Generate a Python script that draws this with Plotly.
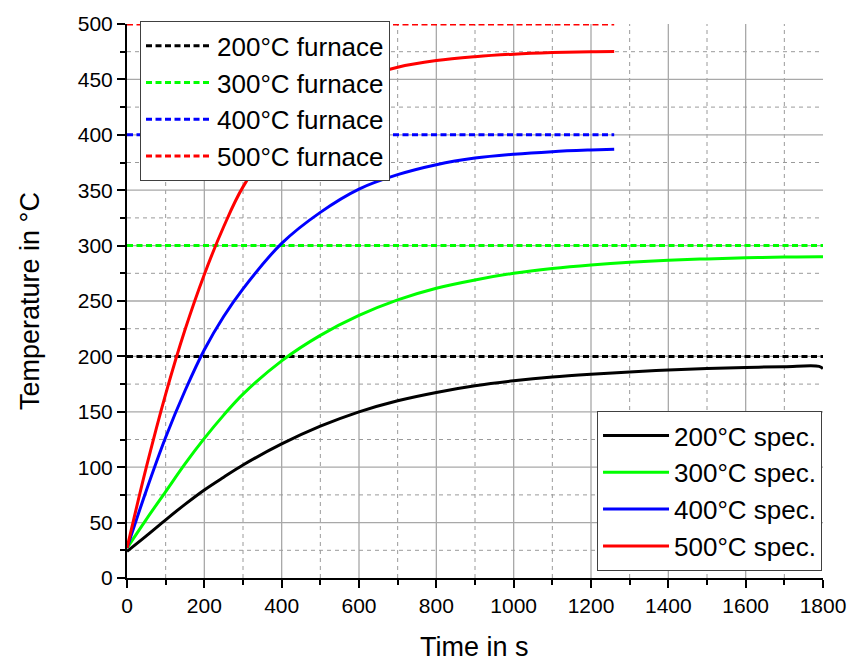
import plotly.graph_objects as go

# ---- data ----
t_long = [0, 50, 100, 150, 200, 250, 300, 400, 500, 600, 700, 800, 900, 1000,
          1100, 1200, 1300, 1400, 1500, 1600, 1700, 1790, 1800]
spec_200 = [24, 38, 52.5, 66.5, 79.5, 91, 102, 121, 137, 150, 160, 167.5, 173.5, 178,
            181.5, 184, 186, 187.7, 189, 190, 190.7, 191, 189]
spec_300 = [27, 53, 78, 103, 126, 147, 166, 196, 219, 237, 251, 261.5, 269, 275,
            279.3, 282.5, 285, 286.8, 288, 289, 289.6, 290, 290]

t_short = [0, 50, 100, 150, 200, 250, 300, 400, 500, 600, 700, 800, 900, 1000,
           1100, 1200, 1260]
spec_400 = [27, 79, 127, 169, 206, 236, 261, 302, 330, 351, 364, 373, 379, 382.5,
            384.8, 386.3, 387]
spec_500 = [27, 100, 166, 224, 274, 317, 353, 402, 432, 450, 461, 467, 470.5, 472.8,
            474.2, 475, 475.2]

furnace_temps = [200, 300, 400, 500]
furnace_end = [1800, 1800, 1260, 1260]
colors = ["#000000", "#00ff00", "#0000ff", "#ff0000"]

x_major = [0, 200, 400, 600, 800, 1000, 1200, 1400, 1600, 1800]
y_major = [0, 50, 100, 150, 200, 250, 300, 350, 400, 450, 500]
x_minor = [100, 300, 500, 700, 900, 1100, 1300, 1500, 1700]
y_minor = [25, 75, 125, 175, 225, 275, 325, 375, 425, 475]

FONT = "Arial, Liberation Sans, sans-serif"

fig = go.Figure()

# furnace lines (legend 1)
for T, te, c in zip(furnace_temps, furnace_end, colors):
    fig.add_trace(go.Scatter(
        x=[0, te], y=[T, T], mode="lines", name=f"{T}°C furnace",
        line=dict(color=c, width=3, dash="6px,3.5px"),
        cliponaxis=False, legend="legend"))

# specimen curves (legend 2)
spec_series = [(t_long, spec_200, "200°C spec."), (t_long, spec_300, "300°C spec."),
               (t_short, spec_400, "400°C spec."), (t_short, spec_500, "500°C spec.")]
for (tx, ty, nm), c in zip(spec_series, colors):
    fig.add_trace(go.Scatter(
        x=tx, y=ty, mode="lines", name=nm,
        line=dict(color=c, width=3, shape="spline", smoothing=1.0),
        legend="legend2"))

# grid lines as shapes (no line at the outer edges)
shapes = []
for xv in x_major[1:-1]:
    shapes.append(dict(type="line", xref="x", yref="paper", x0=xv, x1=xv, y0=0, y1=1,
                       line=dict(color="#a8a8a8", width=1.3), layer="below"))
for xv in x_minor:
    shapes.append(dict(type="line", xref="x", yref="paper", x0=xv, x1=xv, y0=0, y1=1,
                       line=dict(color="#9a9a9a", width=1, dash="4px,4px"), layer="below"))
for yv in y_major[1:-1]:
    shapes.append(dict(type="line", xref="paper", yref="y", x0=0, x1=1, y0=yv, y1=yv,
                       line=dict(color="#a8a8a8", width=1.3), layer="below"))
for yv in y_minor:
    shapes.append(dict(type="line", xref="paper", yref="y", x0=0, x1=1, y0=yv, y1=yv,
                       line=dict(color="#9a9a9a", width=1, dash="4px,4px"), layer="below"))

axis_common = dict(
    showgrid=False, zeroline=False, showline=True, linecolor="black", linewidth=2,
    ticks="outside", ticklen=8, tickwidth=2, tickcolor="black",
    tickfont=dict(family=FONT, size=21, color="black"),
    minor=dict(ticks="outside", ticklen=5, tickwidth=2, tickcolor="black", showgrid=False),
)

fig.update_layout(
    width=862, height=664,
    margin=dict(l=127, r=39, t=18, b=86),
    plot_bgcolor="white", paper_bgcolor="white",
    font=dict(family=FONT, color="black"),
    xaxis=dict(range=[0, 1800], tickvals=x_major, ticktext=[str(v) for v in x_major],
               **{**axis_common, "minor": dict(axis_common["minor"], tickvals=x_minor)}),
    yaxis=dict(range=[0, 500], tickvals=y_major, ticktext=[str(v) for v in y_major],
               **{**axis_common, "minor": dict(axis_common["minor"], tickvals=y_minor)}),
    shapes=shapes,
    legend=dict(x=0.0187, y=1.005, xanchor="left", yanchor="top",
                bgcolor="white", bordercolor="#404040", borderwidth=1,
                font=dict(family=FONT, size=26, color="black"),
                itemwidth=66, tracegroupgap=0),
    legend2=dict(x=0.9986, y=0.0125, xanchor="right", yanchor="bottom",
                 bgcolor="white", bordercolor="#404040", borderwidth=1,
                 font=dict(family=FONT, size=26, color="black"),
                 itemwidth=66, tracegroupgap=0),
    showlegend=True,
    annotations=[
        dict(text="Time in s", xref="paper", yref="paper", x=0.4986, y=-0.125,
             xanchor="center", yanchor="middle", showarrow=False,
             font=dict(family=FONT, size=27, color="black")),
        dict(text="Temperature in °C", xref="paper", yref="paper", x=-0.1394, y=0.5,
             xanchor="center", yanchor="middle", textangle=-90, showarrow=False,
             font=dict(family=FONT, size=27, color="black")),
    ],
)

fig.write_html("out.html")
